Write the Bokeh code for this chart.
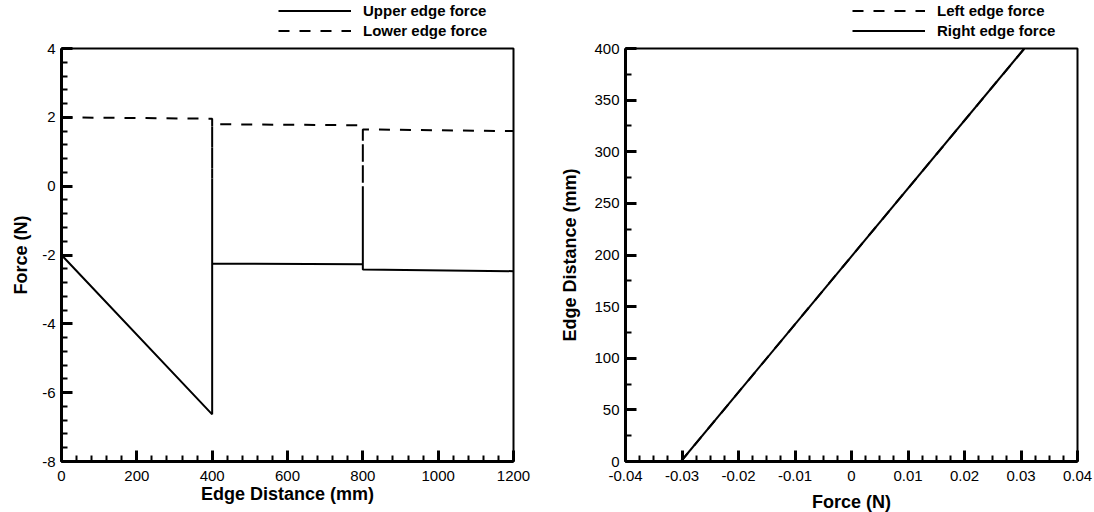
from bokeh.plotting import figure
from bokeh.layouts import row, column
from bokeh.models import (Range1d, SingleIntervalTicker, CustomJSTickFormatter,
                          Legend, LegendItem)
from bokeh.embed import file_html
from bokeh.resources import INLINE

# ---------------- data ----------------
# Left chart: force along the upper / lower edges
edge_x = [0, 400, 400, 400, 800, 800, 800, 1200]
upper_force = [-2.0, -6.63, 0.22, -2.25, -2.27, 0.0, -2.42, -2.47]
lower_force = [2.0, 1.96, 0.22, 1.80, 1.77, 0.05, 1.65, 1.60]

# Right chart: force along the left / right edges
edge_dist = [0, 400]
left_force = [-0.0302, 0.0306]
right_force = [-0.0302, 0.0306]

FONT = "Liberation Sans"
DASH = "11 10"
SOLID = dict(line_color="black", line_width=2)
DASHED = dict(line_color="black", line_width=2, line_dash=DASH)


def style(p, xint, xminor, yint, yminor, xstand, ystand):
    for ax in (p.xaxis[0], p.yaxis[0]):
        ax.axis_line_width = 3
        ax.axis_line_color = "black"
        ax.major_tick_in = 11
        ax.major_tick_out = 0
        ax.minor_tick_in = 6
        ax.minor_tick_out = 0
        ax.major_tick_line_width = 3
        ax.minor_tick_line_width = 2
        ax.major_tick_line_color = "black"
        ax.minor_tick_line_color = "black"
        ax.major_label_text_font = FONT
        ax.major_label_text_font_size = "15px"
        ax.major_label_text_color = "black"
        ax.axis_label_text_font = FONT
        ax.axis_label_text_font_style = "bold"
        ax.axis_label_text_font_size = "18px"
        ax.axis_label_text_color = "black"
        ax.formatter = CustomJSTickFormatter(
            code="return String(Number(tick.toFixed(6)));")
    p.xaxis[0].major_label_standoff = 9
    p.yaxis[0].major_label_standoff = 6
    p.xaxis[0].ticker = SingleIntervalTicker(interval=xint, num_minor_ticks=xminor)
    p.yaxis[0].ticker = SingleIntervalTicker(interval=yint, num_minor_ticks=yminor)
    p.xaxis[0].axis_label_standoff = xstand
    p.yaxis[0].axis_label_standoff = ystand
    p.outline_line_color = "black"
    p.outline_line_width = 2
    p.outline_line_alpha = 1
    p.grid.visible = False
    p.background_fill_color = "white"
    p.border_fill_color = "white"


def legend_strip(left, right, series, x_off):
    """A strip above the chart that only holds the chart's legend."""
    lf = figure(frame_width=452, frame_height=40,
                min_border_left=left, min_border_right=right,
                min_border_top=0, min_border_bottom=0,
                x_axis_location=None, y_axis_location=None,
                toolbar_location=None, output_backend="svg")
    lf.outline_line_color = None
    lf.background_fill_color = "white"
    lf.border_fill_color = "white"
    lf.xgrid.visible = False
    lf.ygrid.visible = False
    items = []
    for label, xs, ys, kw in series:
        r = lf.line(xs, ys, visible=False, **kw)
        items.append(LegendItem(label=label, renderers=[r]))
    leg = Legend(items=items, location=(x_off, 0))
    leg.label_text_font = FONT
    leg.label_text_font_style = "bold"
    leg.label_text_font_size = "15px"
    leg.label_text_color = "black"
    leg.label_height = 19
    leg.glyph_height = 19
    leg.glyph_width = 73
    leg.label_standoff = 12
    leg.spacing = 1
    leg.padding = 0
    leg.margin = 0
    leg.border_line_alpha = 0
    leg.background_fill_alpha = 0
    leg.inactive_fill_alpha = 0
    lf.add_layout(leg)
    return lf


# ---------------- left chart ----------------
p1 = figure(frame_width=452, frame_height=413,
            x_range=Range1d(0, 1200), y_range=Range1d(-8, 4),
            min_border_left=61, min_border_right=27,
            min_border_top=8, min_border_bottom=50,
            toolbar_location=None, output_backend="svg",
            x_axis_label="Edge Distance (mm)", y_axis_label="Force (N)")
style(p1, 200, 5, 2, 5, 0, 8)
p1.line(edge_x, upper_force, **SOLID)
p1.line(edge_x, lower_force, **DASHED)
lf1 = legend_strip(61, 27, [
    ("Upper edge force", edge_x, upper_force, SOLID),
    ("Lower edge force", edge_x, lower_force, DASHED),
], 217)

# ---------------- right chart ----------------
p2 = figure(frame_width=452, frame_height=413,
            x_range=Range1d(-0.04, 0.04), y_range=Range1d(0, 400),
            min_border_left=85, min_border_right=17,
            min_border_top=8, min_border_bottom=50,
            toolbar_location=None, output_backend="svg",
            x_axis_label="Force (N)", y_axis_label="Edge Distance (mm)")
style(p2, 0.01, 4, 50, 2, 8, 11)
p2.line(left_force, edge_dist, **DASHED)
p2.line(right_force, edge_dist, **SOLID)
lf2 = legend_strip(85, 17, [
    ("Left edge force", left_force, edge_dist, DASHED),
    ("Right edge force", right_force, edge_dist, SOLID),
], 227)

layout = row(column(lf1, p1), column(lf2, p2))
open("out.html", "w").write(file_html(layout, INLINE))
